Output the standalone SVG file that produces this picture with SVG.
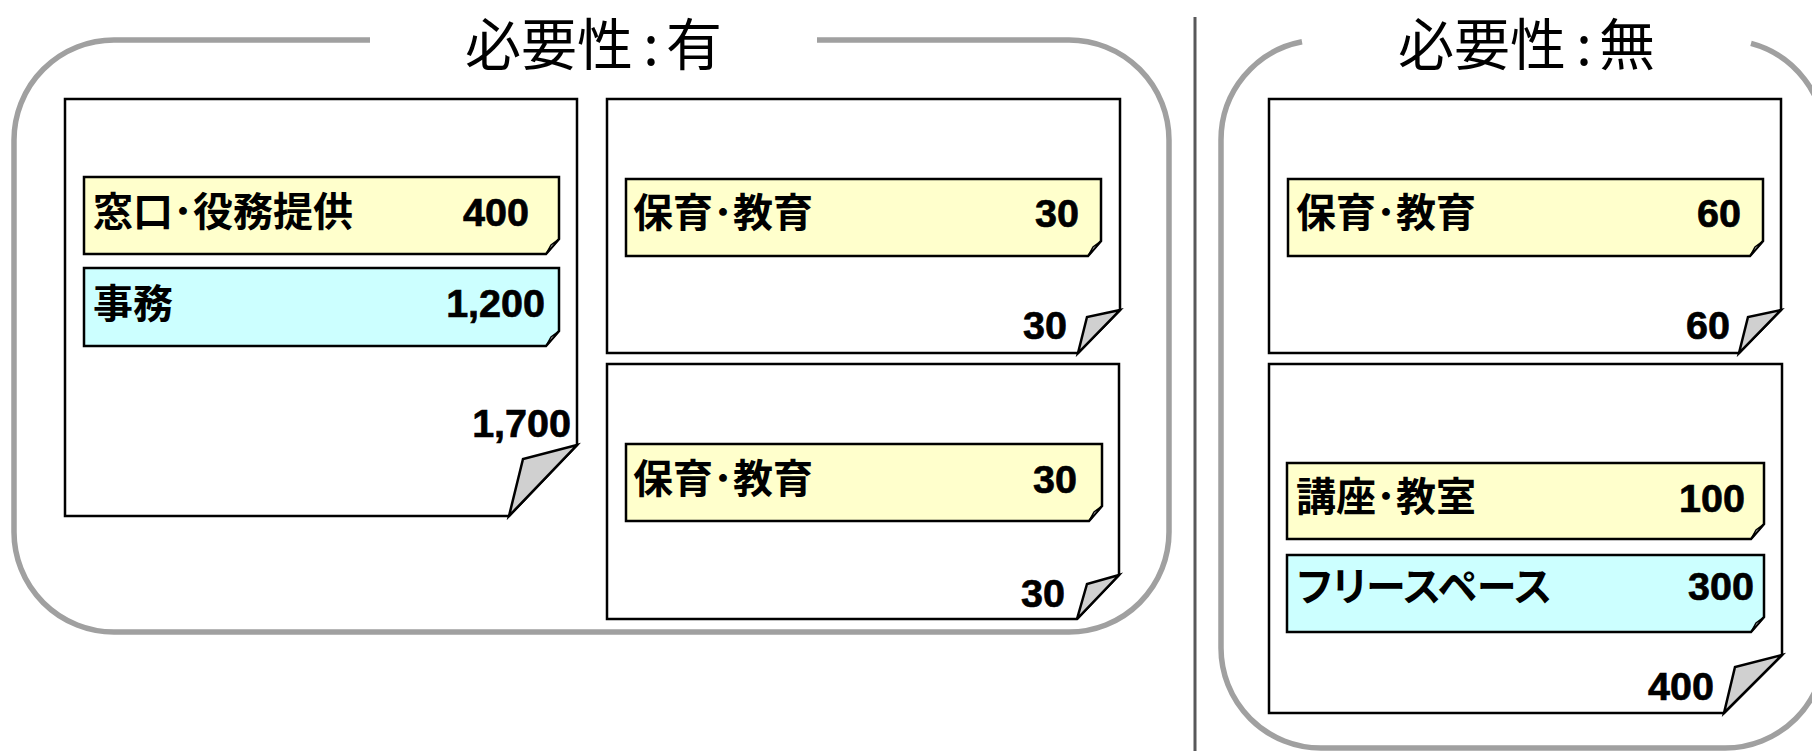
<svg xmlns="http://www.w3.org/2000/svg" width="1812" height="751" viewBox="0 0 1812 751">
<style>
.frame{fill:none;stroke:#a0a0a0;stroke-width:5.5}
.divider{stroke:#58585a;stroke-width:3}
.doc{fill:#fff;stroke:#000;stroke-width:2.5;stroke-linejoin:miter}
.fold{fill:#d0d0d0;stroke:#000;stroke-width:2.5;stroke-linejoin:miter}
.y{fill:#ffffcc;stroke:#000;stroke-width:2.5}
.c{fill:#ccffff;stroke:#000;stroke-width:2.5}
.lfold{fill:#e6e6e6;stroke:#000;stroke-width:1.5}
.title{font-family:"Noto Sans CJK JP","Noto Sans",sans-serif;font-size:56px;fill:#000}
.colon{text-anchor:middle}
.lbl{font-family:"Noto Sans CJK JP",sans-serif;font-size:40px;font-weight:700;fill:#000}
.num{font-family:"Liberation Sans",Arial,sans-serif;font-size:39.5px;font-weight:700;fill:#000;stroke:#000;stroke-width:0.7;text-anchor:end}
</style>
<rect x="0" y="0" width="1812" height="751" fill="#fff"/>

<g id="group-required">
<path class="frame" d="M370,40 H114 A100,100 0 0 0 14,140 V532 A100,100 0 0 0 114,632 H1069 A100,100 0 0 0 1169,532 V140 A100,100 0 0 0 1069,40 H817"/>
<text class="title" x="465" y="64.5">必要性</text>
<text class="title colon" x="651" y="64.5">:</text>
<text class="title" x="666" y="64.5">有</text>
</g>

<line id="divider" class="divider" x1="1195" y1="17" x2="1195" y2="751"/>

<g id="group-unrequired">
<path class="frame" d="M1302,41.8 A100,100 0 0 0 1221,140 V648 A100,100 0 0 0 1321,748 H1725 A100,100 0 0 0 1825,648 V140 A100,100 0 0 0 1751,43.4"/>
<text class="title" x="1398" y="64.5">必要性</text>
<text class="title colon" x="1584" y="64.5">:</text>
<text class="title" x="1599" y="64.5">無</text>
</g>

<g id="doc1">
<path class="doc" d="M65,99 H577 V445 L509,516 H65 Z"/>
<path class="fold" d="M577,445 L523,459 L509,516 Z"/>
<g id="doc1-a">
<path class="y" d="M84,177 H559 V239 L546,254 H84 Z"/>
<path class="lfold" d="M559,239 L551,245 L546,254 Z"/>
<text class="lbl" x="93" y="226">窓口･役務提供</text>
<text class="num" x="529" y="226">400</text>
</g>
<g id="doc1-b">
<path class="c" d="M84,268 H559 V331 L546,346 H84 Z"/>
<path class="lfold" d="M559,331 L551,337 L546,346 Z"/>
<text class="lbl" x="93" y="318">事務</text>
<text class="num" x="545" y="317">1,200</text>
</g>
<text class="num" x="571" y="437">1,700</text>
</g>

<g id="doc2">
<path class="doc" d="M607,99 H1120 V310 L1078,353 H607 Z"/>
<path class="fold" d="M1120,310 L1087,317 L1078,353 Z"/>
<g id="doc2-a">
<path class="y" d="M626,179 H1101 V241 L1088,256 H626 Z"/>
<path class="lfold" d="M1101,241 L1093,247 L1088,256 Z"/>
<text class="lbl" x="633" y="227">保育･教育</text>
<text class="num" x="1079" y="227">30</text>
</g>
<text class="num" x="1067" y="339">30</text>
</g>

<g id="doc3">
<path class="doc" d="M607,364 H1119 V575 L1077,619 H607 Z"/>
<path class="fold" d="M1119,575 L1087,584 L1077,619 Z"/>
<g id="doc3-a">
<path class="y" d="M626,444 H1102 V506 L1089,521 H626 Z"/>
<path class="lfold" d="M1102,506 L1094,512 L1089,521 Z"/>
<text class="lbl" x="633" y="493">保育･教育</text>
<text class="num" x="1077" y="493">30</text>
</g>
<text class="num" x="1065" y="607">30</text>
</g>

<g id="doc4">
<path class="doc" d="M1269,99 H1781 V310 L1739,353 H1269 Z"/>
<path class="fold" d="M1781,310 L1748,317 L1739,353 Z"/>
<g id="doc4-a">
<path class="y" d="M1288,179 H1763 V241 L1750,256 H1288 Z"/>
<path class="lfold" d="M1763,241 L1755,247 L1750,256 Z"/>
<text class="lbl" x="1296" y="227">保育･教育</text>
<text class="num" x="1741" y="227">60</text>
</g>
<text class="num" x="1730" y="339">60</text>
</g>

<g id="doc5">
<path class="doc" d="M1269,364 H1782 V655 L1724,713 H1269 Z"/>
<path class="fold" d="M1782,655 L1735,667 L1724,713 Z"/>
<g id="doc5-a">
<path class="y" d="M1287,463 H1764 V524 L1751,539 H1287 Z"/>
<path class="lfold" d="M1764,524 L1756,530 L1751,539 Z"/>
<text class="lbl" x="1296" y="511">講座･教室</text>
<text class="num" x="1745" y="512">100</text>
</g>
<g id="doc5-b">
<path class="c" d="M1287,555 H1764 V617 L1751,632 H1287 Z"/>
<path class="lfold" d="M1764,617 L1756,623 L1751,632 Z"/>
<text class="lbl" x="1297" y="601" style="font-feature-settings:'palt'">フリースペース</text>
<text class="num" x="1754" y="600">300</text>
</g>
<text class="num" x="1714" y="700">400</text>
</g>
</svg>
